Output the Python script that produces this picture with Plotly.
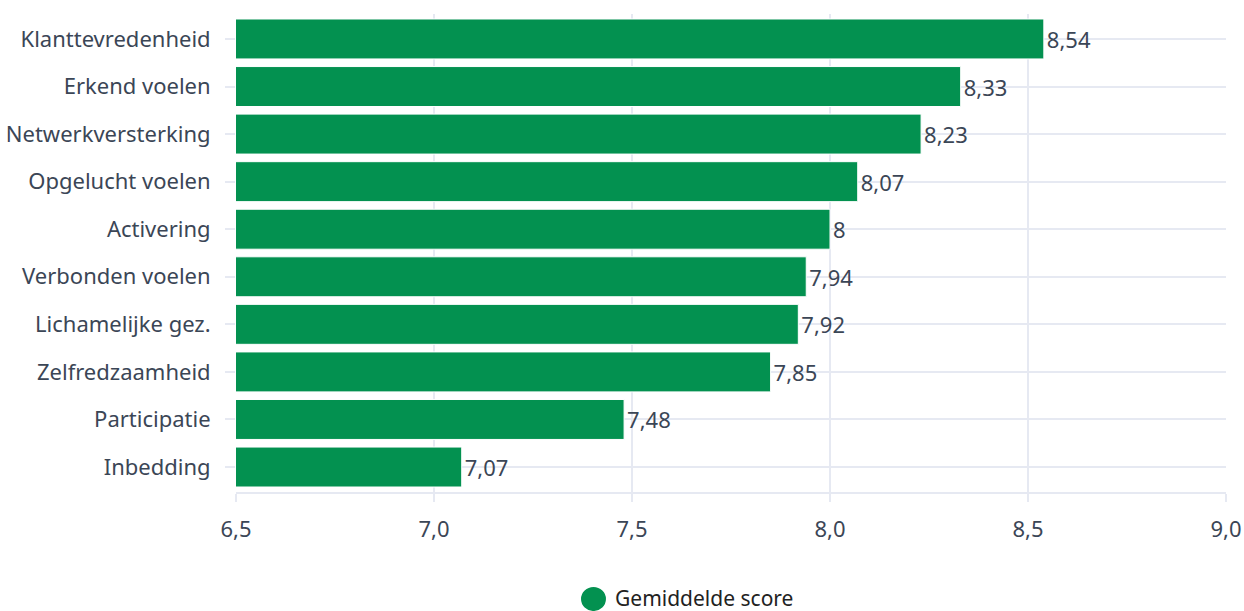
import plotly.graph_objects as go

# ── Data ──────────────────────────────────────────────────────────────────────
categories = [
    "Klanttevredenheid",
    "Erkend voelen",
    "Netwerkversterking",
    "Opgelucht voelen",
    "Activering",
    "Verbonden voelen",
    "Lichamelijke gez.",
    "Zelfredzaamheid",
    "Participatie",
    "Inbedding",
]
scores = [8.54, 8.33, 8.23, 8.07, 8.0, 7.94, 7.92, 7.85, 7.48, 7.07]
x_ticks = [6.5, 7.0, 7.5, 8.0, 8.5, 9.0]
x_tick_labels = ["6,5", "7,0", "7,5", "8,0", "8,5", "9,0"]
series_name = "Gemiddelde score"

GREEN = "#039150"
GRID = "#e6e9f2"
TEXT = "#3b4656"
FONT = "Noto Sans"

# dutch style labels: 8,54 / 8
value_labels = [f"{v:g}".replace(".", ",") for v in scores]

fig = go.Figure()
fig.add_trace(go.Bar(
    x=scores,
    y=categories,
    orientation="h",
    name=series_name,
    marker=dict(color=GREEN, line=dict(color="#ffffff", width=1)),
    width=0.84,
    text=value_labels,
    textposition="outside",
    cliponaxis=False,
    textfont=dict(family=FONT, size=22, color=TEXT),
    showlegend=False,
))

# legend drawn by hand: large round swatch + label
fig.add_shape(
    type="circle", xref="paper", yref="paper",
    x0=0.3485, x1=0.3737,
    y0=-0.199, y1=-0.249,
    fillcolor=GREEN, line=dict(width=0),
)
fig.add_annotation(
    text=series_name, xref="paper", yref="paper",
    x=0.381, y=-0.222, xanchor="left", yanchor="middle",
    showarrow=False, font=dict(family=FONT, size=21, color="#222222"),
)

fig.update_layout(
    width=1244,
    height=611,
    paper_bgcolor="white",
    plot_bgcolor="white",
    separators=",.",
    margin=dict(l=236, r=18, t=14, b=119),
    font=dict(family=FONT, size=22, color=TEXT),
    xaxis=dict(
        range=[6.5, 9.0],
        tickvals=x_ticks,
        ticktext=x_tick_labels,
        automargin=False,
        showgrid=True,
        gridcolor=GRID,
        gridwidth=2,
        zeroline=False,
        showline=True,
        linecolor=GRID,
        linewidth=2,
        ticks="outside",
        ticklen=8,
        tickwidth=2,
        tickcolor=GRID,
        ticklabelstandoff=9,
    ),
    yaxis=dict(
        categoryorder="array",
        categoryarray=categories,
        range=[9.525, -0.525],
        automargin=False,
        showgrid=True,
        gridcolor=GRID,
        gridwidth=2,
        ticks="outside",
        ticklen=10,
        tickwidth=2,
        tickcolor=GRID,
        ticklabelstandoff=10,
    ),
)

# drop the default body margin so the figure fills the window exactly
fig.write_html(
    "out.html",
    config={"displayModeBar": False},
    post_script="document.body.style.margin='0';document.body.style.overflow='hidden';",
)
